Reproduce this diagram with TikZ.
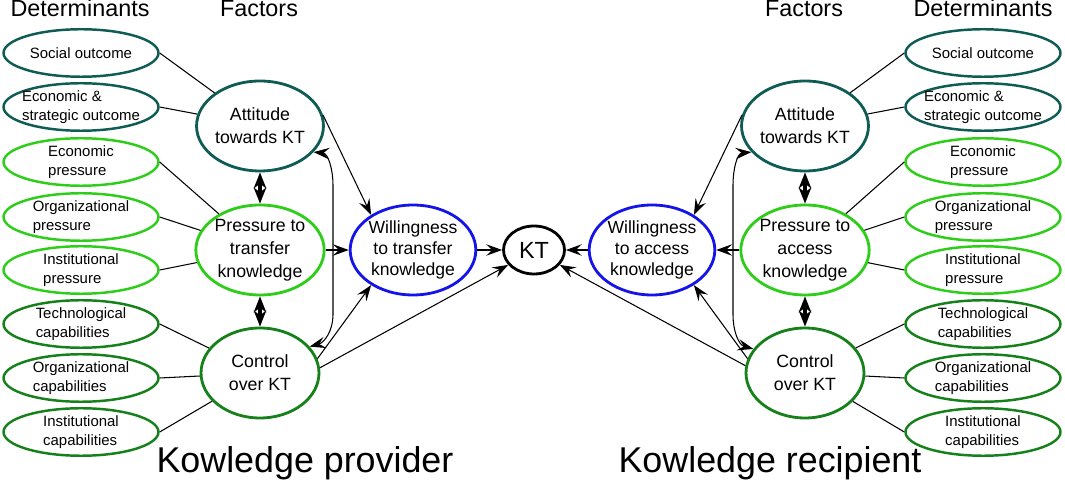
\documentclass[tikz,border=0pt]{standalone}
\usepackage{fontspec}
\setmainfont{Liberation Sans}
\usetikzlibrary{shapes.geometric, arrows.meta}
\definecolor{A}{RGB}{14,92,84}
\definecolor{P}{RGB}{45,205,25}
\definecolor{C}{RGB}{22,128,26}
\definecolor{W}{RGB}{20,20,232}
\tikzstyle{det} = [ellipse, draw, line width=1.4pt,
minimum width=3.1cm, minimum height=0.95cm,
inner xsep=-3pt, inner ysep=0pt, align=left,
font=\fontsize{8.5}{10.8}\selectfont]
\tikzstyle{fac} = [ellipse, draw, line width=1.6pt,
minimum width=2.36cm, minimum height=1.8cm,
inner sep=0pt, align=center,
font=\fontsize{10.1}{13}\selectfont]
\tikzstyle{will} = [fac, draw=W, font=\fontsize{10}{12}\selectfont]
\tikzstyle{kt} = [ellipse, draw, line width=1.6pt,
minimum width=1.22cm, minimum height=0.96cm, inner sep=0pt,
font=\fontsize{13.3}{16}\selectfont]
\tikzstyle{head} = [anchor=base, font=\fontsize{13.3}{16}\selectfont]
\tikzstyle{side} = [anchor=base, font=\fontsize{20.4}{24}\selectfont]
\tikzstyle{link} = [line width=0.6pt]
\tikzstyle{arrow} = [->, line width=0.6pt]
\tikzstyle{twoway} = [{Stealth[length=9pt,width=7pt,inset=2.5pt]}-{Stealth[length=9pt,width=7pt,inset=2.5pt]}, line width=2pt]

\begin{document}
\begin{tikzpicture}[
  x=0.02cm, y=-0.02cm, % one unit is one pixel of the drawing
  >={Stealth[length=9pt,width=6.5pt,inset=3.4pt]},
]
  \useasboundingbox (0,0) rectangle (1065,482);

  \node[head] (hdL) at (80,17)  {Determinants};
  \node[head] (hfL) at (259,17) {Factors};
  \node[head] (hfR) at (804,17) {Factors};
  \node[head] (hdR) at (983,17) {Determinants};

  % provider side
  \node[det, draw=A] (dL1) at (81,53)  {Social outcome};
  \node[det, draw=A] (dL2) at (81,107) {Economic \&\\strategic outcome};
  \node[det, draw=P] (dL3) at (81,162) {Economic\\pressure};
  \node[det, draw=P] (dL4) at (81,217) {Organizational\\pressure};
  \node[det, draw=P] (dL5) at (81,270) {Institutional\\pressure};
  \node[det, draw=C] (dL6) at (81,324) {Technological\\capabilities};
  \node[det, draw=C] (dL7) at (81,378) {Organizational\\capabilities};
  \node[det, draw=C] (dL8) at (81,432) {Institutional\\capabilities};

  \node[fac, draw=A] (aL) at (260,126) {Attitude\\towards KT};
  \node[fac, draw=P] (pL) at (260,250) {Pressure to\\transfer\\knowledge};
  \node[fac, draw=C] (cL) at (260,373) {Control\\over KT};
  \node[will]        (wL) at (413,250) {Willingness\\to transfer\\knowledge};

  \node[kt] (kt) at (534,250) {KT};

  % recipient side
  \node[will]        (wR) at (652,250) {Willingness\\to access\\knowledge};
  \node[fac, draw=A] (aR) at (805,126) {Attitude\\towards KT};
  \node[fac, draw=P] (pR) at (805,250) {Pressure to\\access\\knowledge};
  \node[fac, draw=C] (cR) at (805,373) {Control\\over KT};

  \node[det, draw=A] (dR1) at (983,53)  {Social outcome};
  \node[det, draw=A] (dR2) at (983,107) {Economic \&\\strategic outcome};
  \node[det, draw=P] (dR3) at (983,162) {Economic\\pressure};
  \node[det, draw=P] (dR4) at (983,217) {Organizational\\pressure};
  \node[det, draw=P] (dR5) at (983,270) {Institutional\\pressure};
  \node[det, draw=C] (dR6) at (983,324) {Technological\\capabilities};
  \node[det, draw=C] (dR7) at (983,378) {Organizational\\capabilities};
  \node[det, draw=C] (dR8) at (983,432) {Institutional\\capabilities};

  \node[side] (prov) at (305,473) {Kowledge provider};
  \node[side] (reci) at (770,473) {Kowledge recipient};

  % determinants to factors
  \draw[link] (dL1.east) -- (aL);
  \draw[link] (dL2.east) -- (aL);
  \draw[link] (dL3.east) -- (pL);
  \draw[link] (dL4.east) -- (pL);
  \draw[link] (dL5.east) -- (pL);
  \draw[link] (dL6.east) -- (cL);
  \draw[link] (dL7.east) -- (cL);
  \draw[link] (dL8.east) -- (cL);

  \draw[link] (dR1.west) -- (aR);
  \draw[link] (dR2.west) -- (aR);
  \draw[link] (dR3.west) -- (pR);
  \draw[link] (dR4.west) -- (pR);
  \draw[link] (dR5.west) -- (pR);
  \draw[link] (dR6.west) -- (cR);
  \draw[link] (dR7.west) -- (cR);
  \draw[link] (dR8.west) -- (cR);

  % between factors
  \draw[twoway] (aL) -- (pL);
  \draw[twoway] (pL) -- (cL);
  \draw[twoway] (aR) -- (pR);
  \draw[twoway] (pR) -- (cR);

  \draw[arrow, <->] (aL.-26) to[out=-5,in=90] (333,185) -- (333,315) to[out=-90,in=15] (cL.28);
  \draw[arrow, <->] (aR.-154) to[out=185,in=90] (733,185) -- (733,315) to[out=-90,in=165] (cR.155);

  % towards willingness and KT
  \draw[arrow] (aL.10)   -- (wL.140);
  \draw[arrow] (pL.east) -- (wL.west);
  \draw[arrow] (cL.14)   -- (wL.-140);
  \draw[arrow] (cL.5)    -- (kt.-150);
  \draw[arrow] (wL.east) -- (kt.west);

  \draw[arrow] (aR.170)  -- (wR.40);
  \draw[arrow] (pR.west) -- (wR.east);
  \draw[arrow] (cR.166)  -- (wR.-40);
  \draw[arrow] (cR.173)  -- (kt.-30);
  \draw[arrow] (wR.west) -- (kt.east);
\end{tikzpicture}
\end{document}
